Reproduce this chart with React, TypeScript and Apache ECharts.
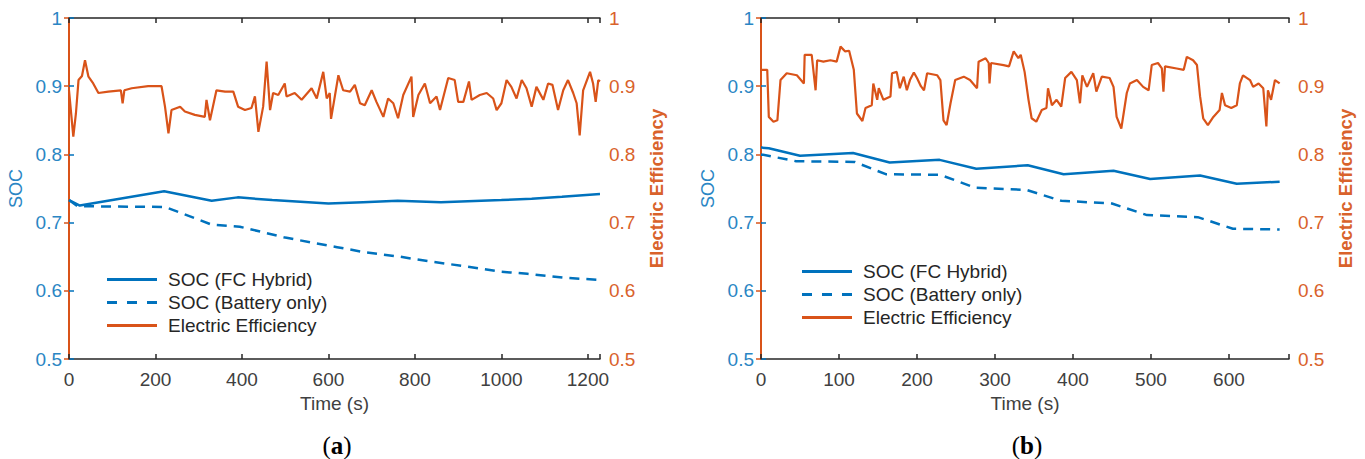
import React, { useEffect, useRef } from "react";
import * as echarts from "echarts";

// ---------- Data: panel (a) ----------
const aFcT = [0, 25, 220, 330, 390, 470, 600, 680, 760, 860, 1000, 1070, 1140, 1228];
const aFcV = [0.733, 0.725, 0.746, 0.732, 0.737, 0.733, 0.728, 0.73, 0.732, 0.73, 0.733, 0.735, 0.738, 0.742];

const aBatT = [0, 20, 222, 330, 395, 500, 620, 680, 765, 835, 927, 1000, 1020, 1060, 1147, 1228];
const aBatV = [0.733, 0.724, 0.723, 0.697, 0.694, 0.678, 0.664, 0.657, 0.65, 0.643, 0.635, 0.628, 0.627, 0.625, 0.619, 0.616];

const aEffT = [
  0, 10, 16, 22, 30, 37, 45, 56, 68, 91, 120, 124, 128, 145, 183, 214, 222, 230, 237, 257, 268, 291, 314, 318, 326,
  341, 361, 380, 391, 407, 422, 430, 438, 449, 457, 465, 472, 484, 499, 503, 522, 538, 561, 573, 588, 596, 603, 606,
  623, 634, 650, 661, 673, 684, 700, 711, 727, 738, 750, 761, 773, 792, 796, 808, 823, 835, 850, 858, 877, 892, 900,
  912, 925, 931, 950, 966, 981, 989, 1000, 1012, 1023, 1035, 1047, 1058, 1070, 1081, 1097, 1108, 1118, 1131, 1143,
  1154, 1166, 1174, 1181, 1189, 1205, 1212, 1218, 1224, 1228,
];
const aEffV = [
  0.894, 0.826, 0.86, 0.909, 0.915, 0.938, 0.914, 0.904, 0.89, 0.892, 0.894, 0.875, 0.894, 0.897, 0.9, 0.9, 0.87,
  0.831, 0.865, 0.87, 0.863, 0.858, 0.855, 0.88, 0.85, 0.894, 0.892, 0.892, 0.87, 0.865, 0.868, 0.885, 0.833, 0.87,
  0.936, 0.865, 0.89, 0.887, 0.904, 0.885, 0.89, 0.88, 0.897, 0.882, 0.921, 0.882, 0.89, 0.852, 0.916, 0.894, 0.892,
  0.902, 0.875, 0.872, 0.894, 0.877, 0.855, 0.882, 0.875, 0.853, 0.887, 0.914, 0.855, 0.887, 0.904, 0.875, 0.885,
  0.865, 0.912, 0.909, 0.877, 0.877, 0.907, 0.88, 0.887, 0.89, 0.882, 0.865, 0.875, 0.909, 0.899, 0.882, 0.909,
  0.897, 0.87, 0.899, 0.88, 0.904, 0.902, 0.865, 0.894, 0.909, 0.89, 0.875, 0.828, 0.894, 0.921, 0.904, 0.877,
  0.909, 0.907,
];

// ---------- Data: panel (b) ----------
const bFcT = [0, 10, 50, 118, 165, 229, 276, 342, 388, 452, 499, 563, 610, 665];
const bFcV = [0.81, 0.809, 0.798, 0.802, 0.788, 0.792, 0.779, 0.784, 0.771, 0.776, 0.764, 0.769, 0.757, 0.76];

const bBatT = [0, 45, 120, 160, 230, 275, 340, 385, 450, 495, 560, 605, 665];
const bBatV = [0.8, 0.79, 0.789, 0.771, 0.77, 0.751, 0.748, 0.732, 0.728, 0.711, 0.708, 0.691, 0.69];

const bEffT = [
  0, 8, 10, 16, 21, 25, 33, 46, 55, 56, 65, 70, 72, 80, 89, 97, 102, 108, 113, 119, 123, 130, 134, 142, 144, 149,
  151, 157, 166, 168, 174, 178, 183, 187, 191, 196, 200, 205, 209, 213, 226, 230, 234, 238, 243, 249, 260, 268, 277,
  279, 288, 292, 293, 295, 311, 318, 324, 330, 333, 338, 343, 347, 353, 360, 366, 368, 373, 379, 385, 390, 398, 405,
  409, 412, 418, 426, 430, 437, 447, 452, 456, 462, 469, 473, 482, 490, 497, 501, 509, 514, 516, 518, 533, 542, 546,
  554, 559, 563, 567, 573, 580, 588, 591, 595, 603, 610, 614, 618, 627, 631, 638, 644, 648, 650, 654, 659, 665,
];
const bEffV = [
  0.924, 0.924, 0.855, 0.848, 0.85, 0.909, 0.919, 0.916, 0.904, 0.946, 0.946, 0.894, 0.938, 0.936, 0.938, 0.936,
  0.958, 0.951, 0.952, 0.924, 0.86, 0.849, 0.868, 0.872, 0.904, 0.88, 0.897, 0.88, 0.885, 0.919, 0.921, 0.897, 0.914,
  0.894, 0.909, 0.92, 0.912, 0.9, 0.894, 0.919, 0.916, 0.909, 0.85, 0.843, 0.875, 0.909, 0.914, 0.909, 0.897, 0.936,
  0.941, 0.934, 0.904, 0.934, 0.931, 0.929, 0.951, 0.941, 0.946, 0.921, 0.88, 0.853, 0.848, 0.865, 0.868, 0.897,
  0.872, 0.88, 0.87, 0.912, 0.921, 0.909, 0.875, 0.916, 0.899, 0.919, 0.892, 0.914, 0.912, 0.899, 0.855, 0.838, 0.89,
  0.904, 0.909, 0.899, 0.894, 0.931, 0.934, 0.926, 0.892, 0.929, 0.926, 0.924, 0.943, 0.938, 0.931, 0.885, 0.853,
  0.843, 0.855, 0.865, 0.89, 0.872, 0.868, 0.872, 0.904, 0.916, 0.909, 0.899, 0.904, 0.897, 0.841, 0.894, 0.88,
  0.909, 0.904,
];

const xTicksA = [0, 200, 400, 600, 800, 1000, 1200];
const xTicksB = [0, 100, 200, 300, 400, 500, 600];
const seriesNames = ["SOC (FC Hybrid)", "SOC (Battery only)", "Electric Efficiency"];

const BLUE = "#0072BD";
const BLUE_TXT = "#2a86c4";
const ORANGE = "#D95319";
const ORANGE_TXT = "#D9622B";
const DARK = "#262626";
const FONT = "'Liberation Sans', Arial, sans-serif";
const FS = 19;

const SOLID_ICON = "path://M0,0H50V3H0Z";
const DASH_ICON = "path://M0,0H10V3H0Z M20,0H30V3H20Z M40,0H50V3H40Z";

const zip = (t: number[], v: number[]) => t.map((x, i) => [x, v[i]]);

function xAxes(grid: number, max: number, interval: number, ticks: number[]) {
  const common = {
    gridIndex: grid,
    type: "value",
    min: 0,
    max,
    interval,
    splitLine: { show: false },
    axisLine: { show: true, lineStyle: { color: DARK, width: 1.5 } },
    axisTick: { show: true, inside: true, length: 5, lineStyle: { color: DARK, width: 1.5 } },
  };
  return [
    {
      ...common,
      position: "bottom",
      name: "Time (s)",
      nameLocation: "middle",
      nameGap: 35,
      nameTextStyle: { fontSize: FS, color: "#404040", fontFamily: FONT },
      axisLabel: {
        fontSize: FS,
        color: "#404040",
        fontFamily: FONT,
        margin: 11,
        formatter: (v: number) => (ticks.includes(v) ? String(v) : ""),
      },
    },
    { ...common, position: "top", axisLabel: { show: false } },
  ];
}

function yAxes(grid: number) {
  const common = {
    gridIndex: grid,
    type: "value",
    min: 0.5,
    max: 1,
    interval: 0.1,
    splitLine: { show: false },
    nameLocation: "middle",
  };
  return [
    {
      ...common,
      position: "left",
      name: "SOC",
      nameGap: 44,
      nameTextStyle: { fontSize: 18, color: BLUE_TXT, fontFamily: FONT },
      axisLine: { show: true, lineStyle: { color: BLUE, width: 2 } },
      axisTick: { show: true, inside: true, length: 5, lineStyle: { color: BLUE, width: 1.5 } },
      axisLabel: { fontSize: FS, color: BLUE_TXT, fontFamily: FONT, margin: 7 },
    },
    {
      ...common,
      position: "right",
      name: "Electric Efficiency",
      nameGap: 47,
      nameTextStyle: { fontSize: 18.5, fontWeight: "bold", color: ORANGE_TXT, fontFamily: FONT },
      axisLine: { show: true, lineStyle: { color: ORANGE, width: 2 } },
      axisTick: { show: true, inside: true, length: 5, lineStyle: { color: ORANGE, width: 1.5 } },
      axisLabel: { fontSize: FS, color: ORANGE_TXT, fontFamily: FONT, margin: 9 },
    },
  ];
}

function seriesFor(grid: number, fc: number[][], bat: number[][], eff: number[][]) {
  const xi = grid * 2;
  const yi = grid * 2;
  return [
    {
      name: seriesNames[0],
      type: "line",
      xAxisIndex: xi,
      yAxisIndex: yi,
      symbol: "none",
      data: fc,
      lineStyle: { color: BLUE, width: 2.5 },
      itemStyle: { color: BLUE },
    },
    {
      name: seriesNames[1],
      type: "line",
      xAxisIndex: xi,
      yAxisIndex: yi,
      symbol: "none",
      data: bat,
      lineStyle: { color: BLUE, width: 2.5, type: [10, 7] },
      itemStyle: { color: BLUE },
    },
    {
      name: seriesNames[2],
      type: "line",
      xAxisIndex: xi,
      yAxisIndex: yi + 1,
      symbol: "none",
      data: eff,
      lineStyle: { color: ORANGE, width: 2.2 },
      itemStyle: { color: ORANGE },
    },
  ];
}

function legendAt(left: number, top: number) {
  return {
    orient: "vertical",
    left,
    top,
    itemWidth: 50,
    itemHeight: 3,
    itemGap: 4,
    padding: 0,
    selectedMode: false,
    data: [
      { name: seriesNames[0], icon: SOLID_ICON, itemStyle: { color: BLUE, borderWidth: 0 } },
      { name: seriesNames[1], icon: DASH_ICON, itemStyle: { color: BLUE, borderWidth: 0 } },
      { name: seriesNames[2], icon: SOLID_ICON, itemStyle: { color: ORANGE, borderWidth: 0 } },
    ],
    textStyle: { fontSize: FS, color: DARK, fontFamily: FONT, padding: [0, 0, 0, 6] },
  };
}

function panelLabel(letter: string, x: number) {
  return {
    type: "text",
    x,
    y: 445,
    style: {
      text: `{n|(}{b|${letter}}{n|)}`,
      align: "center",
      verticalAlign: "middle",
      rich: {
        n: { fontSize: 25, fontFamily: "'Liberation Serif', serif", fill: "#000" },
        b: { fontSize: 25, fontWeight: "bold", fontFamily: "'Liberation Serif', serif", fill: "#000" },
      },
    },
  };
}

export default function App() {
  const ref = useRef<HTMLDivElement>(null);
  useEffect(() => {
    document.body.style.margin = "0";
    const chart = echarts.init(ref.current as HTMLDivElement, null, { renderer: "svg" });
    const option = {
      animation: false,
      backgroundColor: "#ffffff",
      grid: [
        { left: 69, top: 18, width: 531, height: 341 },
        { left: 761, top: 18, width: 528, height: 341 },
      ],
      xAxis: [...xAxes(0, 1228, 200, xTicksA), ...xAxes(1, 677, 100, xTicksB)],
      yAxis: [...yAxes(0), ...yAxes(1)],
      legend: [legendAt(107, 270), legendAt(802, 262)],
      series: [
        ...seriesFor(0, zip(aFcT, aFcV), zip(aBatT, aBatV), zip(aEffT, aEffV)),
        ...seriesFor(1, zip(bFcT, bFcV), zip(bBatT, bBatV), zip(bEffT, bEffV)),
      ],
      graphic: [panelLabel("a", 337), panelLabel("b", 1027)],
    };
    chart.setOption(option as any);
    return () => chart.dispose();
  }, []);
  return <div ref={ref} style={{ width: 1365, height: 459 }} />;
}
